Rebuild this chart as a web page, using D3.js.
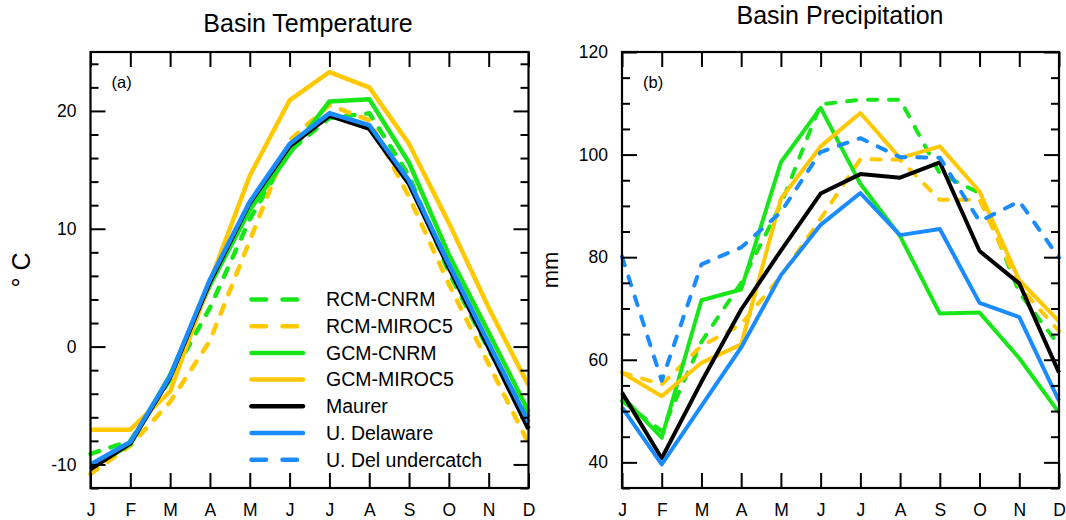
<!DOCTYPE html>
<html><head><meta charset="utf-8">
<script src="https://cdn.jsdelivr.net/npm/d3@7"></script>
<style>
body{margin:0;background:#fff}
text{font-family:"Liberation Sans",Arial,Helvetica,sans-serif;fill:#000}
</style>
</head><body>
<svg id="chart" width="1066" height="520"></svg>
<script>
// ---------- data ----------
const months = ["J","F","M","A","M","J","J","A","S","O","N","D"];
const tempTicks = [-10, 0, 10, 20];
const precipTicks = [40, 60, 80, 100, 120];

const seriesNames = ["RCM-CNRM","RCM-MIROC5","GCM-CNRM","GCM-MIROC5","Maurer","U. Delaware","U. Del undercatch"];

// Basin temperature (deg C)
const tempRCM_CNRM   = [-9.1, -8.0, -2.8, 3.3, 10.8, 16.6, 19.4, 19.8, 14.5, 6.3, -0.3, -5.9];
const tempRCM_MIROC5 = [-10.8, -8.4, -4.7, 0.5, 9.0, 17.5, 20.5, 19.2, 12.7, 5.3, -1.5, -8.2];
const tempGCM_CNRM   = [-10.3, -8.3, -2.4, 5.2, 11.6, 16.4, 20.8, 21.0, 15.6, 7.8, 1.2, -5.5];
const tempGCM_MIROC5 = [-7.05, -7.05, -3.8, 5.5, 14.5, 20.9, 23.3, 22.0, 17.2, 10.5, 3.3, -3.3];
const tempMaurer     = [-10.4, -8.2, -2.6, 5.5, 12.2, 17.0, 19.6, 18.5, 13.8, 6.7, -0.1, -7.0];
const tempUDel       = [-10.0, -8.1, -2.5, 5.7, 12.3, 17.2, 19.8, 18.8, 14.1, 7.0, 0.3, -6.4];

// Basin precipitation (mm)
const precRCM_CNRM   = [52.0, 46.1, 63.5, 75.0, 90.3, 109.8, 110.7, 110.7, 96.3, 92.5, 73.1, 62.8];
const precRCM_MIROC5 = [57.5, 55.2, 62.7, 66.9, 76.3, 87.5, 99.1, 99.0, 91.2, 91.2, 74.3, 65.6];
const precGCM_CNRM   = [52.9, 44.8, 71.6, 73.7, 98.5, 109.1, 94.3, 84.1, 69.0, 69.2, 60.3, 49.7];
const precGCM_MIROC5 = [57.5, 52.9, 59.4, 63.0, 91.4, 101.6, 108.1, 99.3, 101.6, 92.8, 75.5, 67.5];
const precMaurer     = [53.6, 40.8, 55.7, 69.8, 81.3, 92.4, 96.2, 95.5, 98.5, 81.2, 74.9, 57.5];
const precUDel       = [50.7, 39.6, 51.0, 62.4, 76.5, 86.3, 92.5, 84.3, 85.5, 71.1, 68.3, 52.0];
const precUDelUnder  = [80.1, 55.9, 78.6, 81.9, 88.8, 100.5, 103.2, 99.5, 99.4, 87.0, 90.9, 79.9];

// ---------- styles ----------
const GREEN = "#19e619", GOLD = "#ffc800", BLACK = "#000000", BLUE = "#1a8cff";
const styles = {
  "RCM-CNRM": {color: GREEN, dash: true},
  "RCM-MIROC5": {color: GOLD, dash: true},
  "GCM-CNRM": {color: GREEN, dash: false},
  "GCM-MIROC5": {color: GOLD, dash: false},
  "Maurer": {color: BLACK, dash: false},
  "U. Delaware": {color: BLUE, dash: false},
  "U. Del undercatch": {color: BLUE, dash: true}
};

const tempSeries = [
  {name: "RCM-CNRM", values: tempRCM_CNRM},
  {name: "RCM-MIROC5", values: tempRCM_MIROC5},
  {name: "GCM-CNRM", values: tempGCM_CNRM},
  {name: "GCM-MIROC5", values: tempGCM_MIROC5},
  {name: "Maurer", values: tempMaurer},
  {name: "U. Delaware", values: tempUDel}
];
const precSeries = [
  {name: "RCM-CNRM", values: precRCM_CNRM},
  {name: "RCM-MIROC5", values: precRCM_MIROC5},
  {name: "GCM-CNRM", values: precGCM_CNRM},
  {name: "GCM-MIROC5", values: precGCM_MIROC5},
  {name: "Maurer", values: precMaurer},
  {name: "U. Delaware", values: precUDel},
  {name: "U. Del undercatch", values: precUDelUnder}
];

const svg = d3.select("#chart");
const FONT = '"Liberation Sans",Arial,sans-serif';

function panel(opts) {
  const {x0, x1, y0, y1, domain, majors, minors, series, title, titleX, titleY, tag, ylab, ylabX, ylabSize, lw} = opts;
  const x = d3.scaleLinear().domain([0, months.length - 1]).range([x0, x1]);
  const y = d3.scaleLinear().domain(domain).range([y1, y0]);
  const g = svg.append("g");

  // lines
  const line = d3.line().x((d, i) => x(i)).y(d => y(d));
  series.forEach(s => {
    const st = styles[s.name];
    g.append("path")
      .attr("d", line(s.values))
      .attr("fill", "none")
      .attr("stroke", st.color)
      .attr("stroke-width", lw)
      .attr("stroke-linejoin", "round")
      .attr("stroke-linecap", st.dash ? "round" : "butt")
      .attr("stroke-dasharray", st.dash ? "9,12" : null);
  });

  const tickStyle = sel => {
    sel.select(".domain").remove();
    sel.selectAll(".tick line").attr("stroke", "#000").attr("stroke-width", 2);
  };
  const idx = d3.range(months.length);

  // bottom axis with labels
  g.append("g").attr("transform", `translate(0,${y1})`)
    .call(d3.axisBottom(x).tickValues(idx).tickFormat(i => months[i]).tickSizeInner(-15).tickSizeOuter(0).tickPadding(16))
    .call(tickStyle)
    .call(a => a.selectAll("text").attr("font-size", 17.5).attr("font-family", FONT).attr("fill", "#000"));
  // top axis
  g.append("g").attr("transform", `translate(0,${y0})`)
    .call(d3.axisTop(x).tickValues(idx).tickFormat("").tickSizeInner(-15).tickSizeOuter(0))
    .call(tickStyle);
  // left major
  g.append("g").attr("transform", `translate(${x0},0)`)
    .call(d3.axisLeft(y).tickValues(majors).tickFormat(d => String(d)).tickSizeInner(-15).tickSizeOuter(0).tickPadding(14))
    .call(tickStyle)
    .call(a => a.selectAll("text").attr("font-size", 17.5).attr("font-family", FONT).attr("fill", "#000"));
  // left minor
  g.append("g").attr("transform", `translate(${x0},0)`)
    .call(d3.axisLeft(y).tickValues(minors).tickFormat("").tickSizeInner(-8).tickSizeOuter(0))
    .call(tickStyle);
  // right major / minor
  g.append("g").attr("transform", `translate(${x1},0)`)
    .call(d3.axisRight(y).tickValues(majors).tickFormat("").tickSizeInner(-15).tickSizeOuter(0))
    .call(tickStyle);
  g.append("g").attr("transform", `translate(${x1},0)`)
    .call(d3.axisRight(y).tickValues(minors).tickFormat("").tickSizeInner(-8).tickSizeOuter(0))
    .call(tickStyle);

  // frame
  g.append("rect").attr("x", x0).attr("y", y0).attr("width", x1 - x0).attr("height", y1 - y0)
    .attr("fill", "none").attr("stroke", "#000").attr("stroke-width", 2.2);

  // title
  g.append("text").attr("x", titleX).attr("y", titleY).attr("text-anchor", "middle")
    .attr("font-size", 25).text(title);
  // panel tag
  g.append("text").attr("x", x0 + 21).attr("y", 88).attr("font-size", 16.5).text(tag);
  // y label
  g.append("text").attr("transform", `translate(${ylabX},270) rotate(-90)`)
    .attr("text-anchor", "middle").attr("font-size", ylabSize).text(ylab);

  return g;
}

const minorT = d3.range(-12, 26, 2).filter(v => !tempTicks.includes(v));
const minorP = d3.range(35, 121, 5).filter(v => !precipTicks.includes(v));

const gL = panel({x0: 90.5, x1: 528.5, y0: 52, y1: 488, domain: [-12, 25], majors: tempTicks, minors: minorT,
  series: tempSeries, title: "Basin Temperature", titleX: 308, titleY: 31.5, tag: "(a)",
  ylab: "\u00B0 C", ylabX: 30, ylabSize: 25, lw: 4.5});
panel({x0: 622, x1: 1059, y0: 52, y1: 488, domain: [35, 120], majors: precipTicks, minors: minorP,
  series: precSeries, title: "Basin Precipitation", titleX: 840, titleY: 24, tag: "(b)",
  ylab: "mm", ylabX: 558, ylabSize: 22, lw: 4});

// legend (in left panel)
const leg = gL.append("g");
seriesNames.forEach((name, i) => {
  const st = styles[name];
  const yy = 299.5 + i * 26.7;
  leg.append("line").attr("x1", 251.5).attr("x2", 303).attr("y1", yy).attr("y2", yy)
    .attr("stroke", st.color).attr("stroke-width", 4.5)
    .attr("stroke-linecap", "round")
    .attr("stroke-dasharray", st.dash ? "14.5,16.5" : null);
  leg.append("text").attr("x", 326).attr("y", yy + 6.8).attr("font-size", 19.5).text(name);
});
</script>
</body></html>
